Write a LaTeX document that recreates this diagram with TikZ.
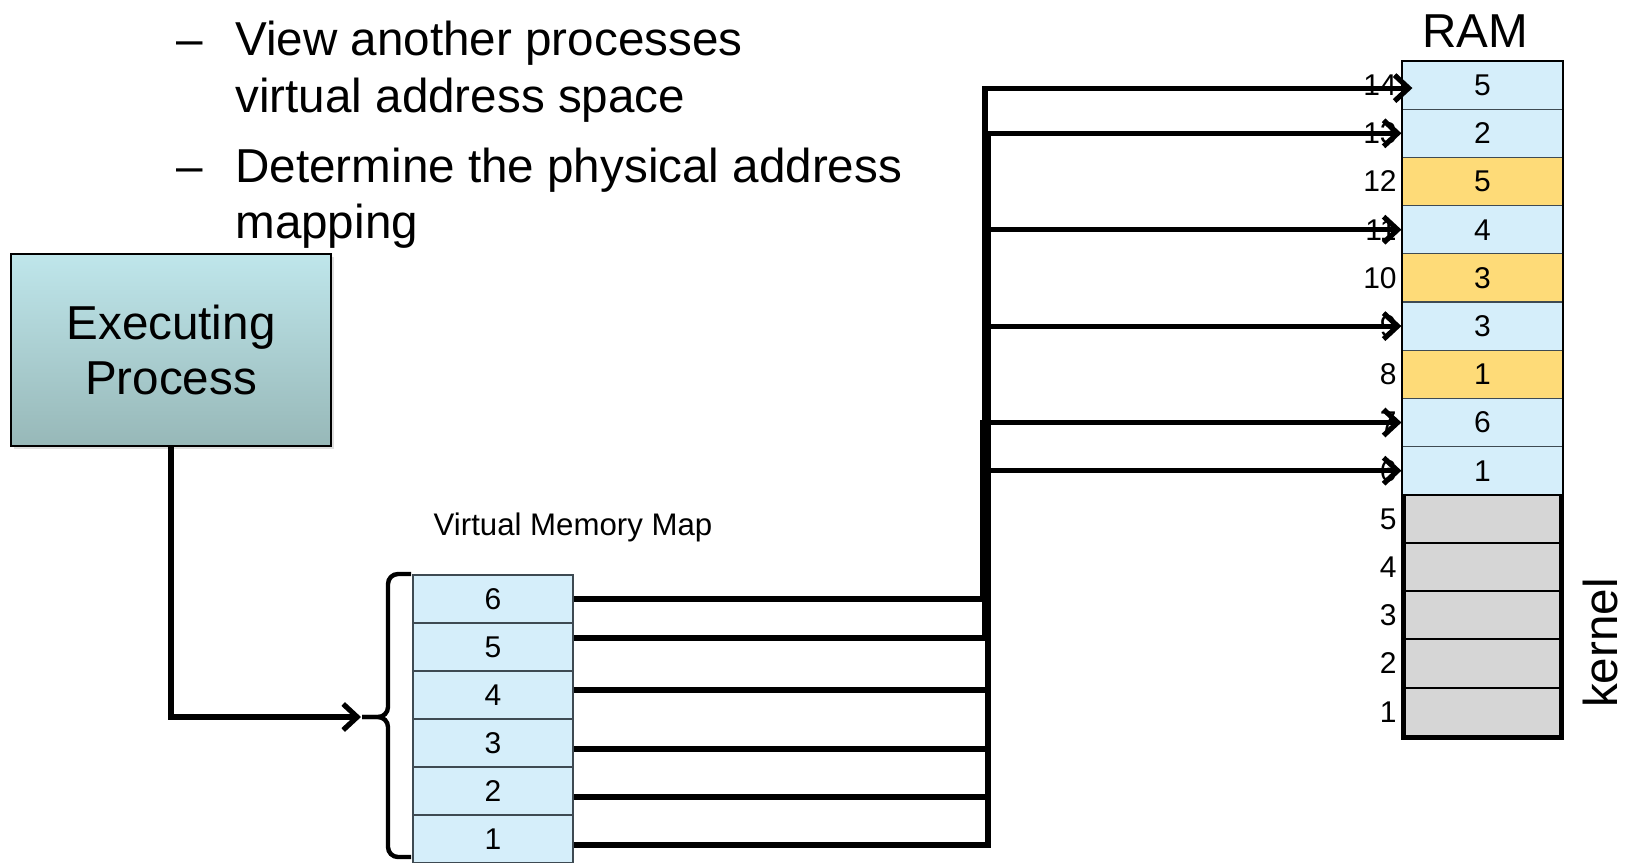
\documentclass[tikz,border=0pt]{standalone}
\usepackage{fontspec}
\setmainfont{Liberation Sans}
\usetikzlibrary{arrows.meta,shadows}

\definecolor{cellblue}{HTML}{D5EEFA}
\definecolor{cellyel}{HTML}{FEDB78}
\definecolor{cellgray}{HTML}{D6D6D6}
\definecolor{celledge}{HTML}{3E4A52}
\definecolor{eptop}{HTML}{BFE6EB}
\definecolor{epbot}{HTML}{97B8B8}

\begin{document}
\begin{tikzpicture}[x=0.5pt,y=-0.5pt,
  big/.style={font=\fontsize{23.8pt}{27.5pt}\selectfont},
  small/.style={font=\fontsize{15pt}{17pt}\selectfont},
  txt/.style={big,inner sep=0pt,anchor=base west},
  ramcell/.style={draw=celledge,line width=0.6pt,minimum width=80.5pt,minimum height=24.1pt,inner sep=0pt,small},
  kcell/.style={draw=black,line width=1pt,fill=cellgray,minimum width=77.5pt,minimum height=24.1pt,inner sep=0pt},
  vcell/.style={draw=celledge,line width=0.6pt,fill=cellblue,minimum width=80pt,minimum height=24pt,inner sep=0pt,small},
  conn/.style={line width=2.6pt,black},
  arr/.style={-{Straight Barb[length=7pt,width=13pt]}},
  bracestyle/.style={line width=2.2pt,rounded corners=5pt}
]
\useasboundingbox (0,0) rectangle (1626,862);

% bullet text
\node[txt] (d1) at (176,55) {–};
\node[txt] (t1) at (235,55) {View another processes};
\node[txt] (t2) at (235,112) {virtual address space};
\node[txt] (d2) at (176,182) {–};
\node[txt] (t3) at (235,182) {Determine the physical address};
\node[txt] (t4) at (235,238) {mapping};

% executing process
\node[draw=black,line width=1pt,top color=eptop,bottom color=epbot,
      minimum width=160pt,minimum height=96pt,align=center,big,
      drop shadow={opacity=0.25,shadow xshift=1.5pt,shadow yshift=-1.5pt}]
      (ep) at (171,350) {Executing\\Process};

% RAM
\node[big,anchor=base] (ram) at (1475,47) {RAM};
\foreach \k/\c/\t in {14/cellblue/5,13/cellblue/2,12/cellyel/5,11/cellblue/4,10/cellyel/3,9/cellblue/3,8/cellyel/1,7/cellblue/6,6/cellblue/1}
  \node[ramcell,fill=\c] (r\k) at (1482.5,{85.1+(14-\k)*48.2}) {\t};
\foreach \k in {5,4,3,2,1}
  \node[kcell] (r\k) at (1482.5,{85.1+(14-\k)*48.2}) {};
\draw[line width=1pt] (1402,61) rectangle (1563,736);
\draw[line width=2.5pt] (1403.5,494) -- (1403.5,737) -- (1561.5,737) -- (1561.5,494);
\foreach \k in {1,...,14}
  \node[small,anchor=east,inner sep=0pt] (l\k) at (1397,{85.1+(14-\k)*48.2}) {\k};
\node[big,rotate=90,inner sep=0pt] (kern) at (1600,643) {kernel};

% virtual memory map
\node[font=\fontsize{15.6pt}{18pt}\selectfont] (vmmlabel) at (573,527) {Virtual Memory Map};
\foreach \k in {6,5,4,3,2,1}
  \node[vcell] (v\k) at (493,{599+(6-\k)*48}) {\k};

% brace
\coordinate (btip) at (361,717);
\draw[bracestyle] (411,574) -- (388,574) -- (388,717) -- (362,717);
\draw[bracestyle] (362,717) -- (388,717) -- (388,857) -- (411,857);

% executing process -> map
\draw[conn,arr] (ep.south) |- (btip);

% bus coordinates
\coordinate (bA) at (983,0);
\coordinate (bB) at (985,0);
\coordinate (bC) at (988,0);

\coordinate (s6) at (v6.east);
\coordinate (s5) at ([yshift=4.5pt]v5.east);
\coordinate (s4) at ([yshift=2.5pt]v4.east);
\coordinate (s3) at ([yshift=-3pt]v3.east);
\coordinate (s2) at ([yshift=-3pt]v2.east);
\coordinate (s1) at ([yshift=-3pt]v1.east);
\coordinate (t14) at ([xshift=5.5pt,yshift=-1.5pt]r14.west);

\draw[conn,arr] (s5) -- (s5 -| bB) |- (t14);
\draw[conn,arr] (s2) -- (s2 -| bC) |- (r13.west);
\draw[conn,arr] (s4) -- (s4 -| bC) |- (r11.west);
\draw[conn,arr] (s3) -- (s3 -| bC) |- (r9.west);
\draw[conn,arr] (s6) -- (s6 -| bA) |- (r7.west);
\draw[conn,arr] (s1) -- (s1 -| bC) |- (r6.west);
\end{tikzpicture}
\end{document}
